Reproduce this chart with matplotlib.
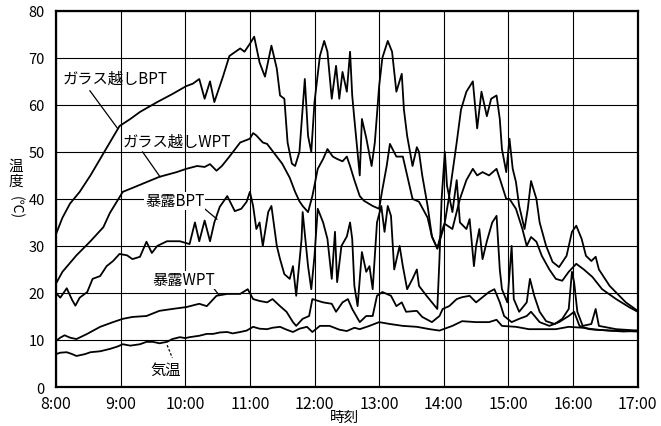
import matplotlib.pyplot as plt
import numpy as np

plt.rcParams['font.family'] = ['Noto Sans CJK JP', 'DejaVu Sans']

# minutes after 8:00 and temperature (deg C)
glass_bpt_min = [0, 6, 13, 22, 32, 41, 50, 59, 69, 78, 94, 108, 121, 127, 133, 138, 143, 147, 155, 161,
                 171, 175, 180, 184, 189, 194, 200, 205, 208, 212, 215, 219, 222, 226, 231, 234, 237, 240,
                 245, 249, 252, 256, 260, 263, 266, 270, 273, 275, 277, 282, 284, 288, 293, 296, 300, 303,
                 308, 312, 316, 321, 323, 326, 331, 335, 337, 340, 345, 349, 354, 358, 361, 365, 372, 376,
                 381, 387, 391, 395, 400, 404, 409, 412, 414, 418, 421, 424, 427, 430, 435, 438, 441, 446,
                 449, 455, 461, 467, 474, 479, 483, 488, 492, 497, 501, 504, 514, 523, 529, 540]
glass_bpt = [32.5, 36, 39, 41.5, 45, 48.5, 52, 55.5, 57, 58.5, 60.6, 62.3, 64, 64.5, 65.5, 61.3, 65, 60.6,
             66, 70.4, 72, 71.3, 73, 74.5, 69, 66, 72.6, 67.7, 62, 61.3, 52, 47.5, 47, 50, 65.5, 53.4, 50,
             60.6, 70.4, 73.6, 71.3, 61.3, 68.3, 61.3, 67, 62.8, 71.3, 62, 57, 45, 57, 53, 47, 52, 64, 70,
             73.6, 71.3, 62.8, 66.6, 59, 53.4, 47, 51, 50, 45, 38.5, 32, 29.5, 33, 35, 40.6, 52, 59, 62.8,
             65, 55, 62.8, 57.6, 61.3, 62, 57, 50.6, 45.7, 52.8, 46.4, 43.6, 38.5, 33.6, 37.9, 43.8, 40,
             35, 30, 26.6, 25.5, 27.9, 33, 34.3, 31.5, 27.9, 26.8, 27.7, 25, 21.5, 19.4, 18, 16.2]

glass_wpt_min = [0, 6, 19, 32, 44, 50, 62, 78, 96, 112, 121, 131, 138, 143, 149, 154, 161, 171, 180, 183,
                 186, 192, 196, 205, 210, 217, 222, 226, 229, 234, 238, 243, 248, 252, 257, 261, 266, 270,
                 273, 277, 282, 286, 294, 300, 303, 307, 310, 316, 322, 326, 331, 337, 345, 349, 354, 361,
                 368, 375, 381, 387, 391, 396, 402, 409, 413, 418, 421, 427, 433, 437, 441, 446, 451, 458,
                 464, 470, 476, 483, 490, 498, 507, 520, 532, 540]
glass_wpt = [22, 24.5, 28, 31, 34, 37, 41.5, 43, 44.7, 45.7, 46.4, 47, 46.8, 47.4, 46, 47, 49, 52, 52.8,
             54, 53.5, 52, 51.7, 49, 47.5, 44.5, 41.5, 39.5, 38.5, 37.2, 40.6, 46.4, 48.5, 50.6, 49, 48.5,
             48, 49, 47, 44, 40.6, 39.6, 38.5, 37.9, 42, 47, 51.7, 49, 49, 45, 40, 39.4, 36, 32, 29.4,
             34.7, 33.6, 40, 44, 46.4, 45, 45.7, 45, 46.4, 43.6, 40, 40, 37.9, 33.6, 30, 31.9, 30.9, 27.9,
             25, 23, 22.6, 24.5, 26.2, 25, 23.4, 20.8, 18.7, 17, 16]

exp_bpt_min = [0, 4, 10, 15, 18, 22, 29, 34, 41, 47, 53, 59, 66, 71, 78, 84, 89, 94, 103, 115, 124, 129,
               133, 138, 143, 147, 152, 159, 166, 172, 177, 180, 183, 186, 189, 192, 197, 200, 205, 208,
               212, 217, 220, 223, 228, 229, 234, 237, 240, 243, 248, 252, 256, 259, 261, 265, 270, 273,
               275, 277, 280, 284, 288, 291, 294, 298, 302, 305, 308, 311, 314, 319, 322, 326, 331, 335,
               337, 344, 349, 354, 356, 358, 361, 363, 368, 372, 375, 381, 384, 388, 390, 393, 396, 400,
               405, 409, 412, 414, 419, 423, 425, 430, 437, 440, 444, 449, 455, 463, 470, 476, 479, 481,
               484, 489, 497, 501, 504, 520, 540]
exp_bpt = [20, 19, 21, 18.5, 17.3, 19, 20.2, 23, 23.6, 25.7, 26.8, 28.3, 28, 27.2, 27.7, 30.9, 28.5, 30,
           31, 31, 30.4, 35, 31, 35.4, 31, 35, 38.3, 40.6, 37.4, 37.9, 39.4, 41.5, 38.5, 33.6, 35, 30, 37.2,
           38.5, 30, 27.2, 24, 23, 25.7, 19.4, 31.5, 37.2, 25.7, 20.8, 27.9, 37.9, 35, 31.5, 23, 33, 22.3,
           30, 32, 35, 31.5, 21.5, 17.2, 28.7, 24.5, 25.7, 20.8, 35, 38.5, 33, 38.5, 36.4, 25, 30, 25.7,
           20.8, 23, 25, 21.5, 19.4, 18, 16.6, 27.2, 40, 50, 42.8, 37.2, 44, 35, 33.6, 35.7, 25.7, 30,
           33.6, 27.2, 31, 35, 36.4, 25, 20.8, 18, 30, 18.7, 16, 18, 23, 19.4, 16, 14, 13.4, 14.5, 16.6,
           24.5, 22.3, 16, 13, 13.4, 16.6, 13, 12.3, 12]

exp_wpt_min = [0, 4, 8, 13, 19, 29, 41, 53, 62, 71, 84, 96, 108, 121, 133, 140, 149, 159, 171, 178, 183,
               189, 196, 201, 208, 214, 220, 223, 229, 235, 238, 248, 256, 260, 266, 271, 275, 282, 288,
               294, 298, 303, 311, 316, 321, 325, 335, 340, 349, 356, 359, 365, 372, 377, 384, 390, 396,
               402, 407, 412, 416, 423, 430, 437, 441, 449, 458, 467, 476, 481, 486, 495, 514, 540]
exp_wpt = [9.8, 10.5, 11, 10.5, 10.2, 11.3, 12.8, 13.8, 14.5, 14.9, 15.1, 16.2, 16.6, 17, 17.7, 17.2, 19.4,
           19.8, 19.8, 20.8, 18.7, 18.3, 18, 18.7, 17.2, 16, 13.8, 13, 14.5, 15.1, 18.7, 18, 17.7, 16, 18,
           18.7, 16.6, 13.8, 15.1, 15.1, 19.4, 20.2, 19.4, 17.2, 18, 16, 16.2, 14.9, 13.8, 15.1, 16.6,
           17.2, 18.7, 19.1, 19.4, 18, 19.1, 20.2, 20.8, 18, 15.1, 13.8, 14.5, 15.1, 16, 13.8, 13, 13.8,
           15.1, 16, 13, 12.3, 12, 11.8]

air_min = [0, 4, 10, 15, 19, 27, 32, 41, 50, 57, 62, 69, 78, 84, 90, 96, 103, 108, 115, 120, 124, 133,
           140, 146, 152, 159, 164, 171, 177, 183, 189, 196, 201, 208, 214, 220, 226, 233, 238, 245, 254,
           263, 270, 277, 282, 291, 300, 310, 322, 335, 347, 356, 368, 377, 390, 402, 409, 414, 427, 439,
           451, 464, 476, 489, 501, 514, 527, 540]
air = [7, 7.3, 7.4, 7.0, 6.6, 7.0, 7.4, 7.6, 8.1, 8.6, 9.1, 8.8, 9.1, 9.6, 9.6, 9.3, 9.6, 10.2, 10.6, 10.4,
       10.6, 10.9, 11.3, 11.3, 11.6, 11.7, 11.4, 11.7, 12.0, 12.8, 12.4, 12.3, 12.6, 12.8, 12.2, 11.7,
       12.4, 12.8, 11.7, 13, 13, 12.2, 11.9, 12.6, 12.3, 13, 13.8, 13.4, 13, 12.8, 12.3, 12, 13, 14,
       13.8, 13.8, 14.3, 13, 12.8, 12.3, 12.3, 12.3, 12.8, 12.6, 12.2, 12, 11.8, 12]

hours = list(range(8, 18))
hour_labels = [f"{h}:00" for h in hours]

fig = plt.figure(figsize=(6.61, 4.27), dpi=100)
ax = fig.add_axes([0.0847, 0.0913, 0.880, 0.881])

for mins, vals in [(glass_bpt_min, glass_bpt), (glass_wpt_min, glass_wpt),
                   (exp_bpt_min, exp_bpt), (exp_wpt_min, exp_wpt), (air_min, air)]:
    t = 8 + np.array(mins) / 60
    ax.plot(t, vals, color='black', lw=1.3, zorder=3)

ax.set_xlim(8, 17)
ax.set_ylim(0, 80)
ax.set_xticks(hours)
ax.set_xticklabels(hour_labels)
ax.set_yticks(range(0, 81, 10))
ax.tick_params(axis='x', length=0, pad=6, labelsize=11.5)
ax.tick_params(axis='y', length=0, pad=8, labelsize=10.5)
ax.grid(True, color='black', lw=0.8)
for s in ax.spines.values():
    s.set_linewidth(1.6)

# series labels with leader lines
box = dict(facecolor='white', edgecolor='none', pad=0.5)
ax.text(8.912, 65.7, 'ガラス越しBPT', fontsize=11, ha='center', va='center', zorder=4)
ax.plot([8.525, 8.958], [63, 54.9], color='black', lw=0.9, zorder=3)
ax.text(9.87, 52.3, 'ガラス越しWPT', fontsize=11, ha='center', va='center', zorder=4)
ax.plot([9.34, 9.61], [50, 44.7], color='black', lw=0.9, zorder=3)
ax.text(9.84, 39.6, '暴露BPT', fontsize=11, ha='center', va='center', bbox=box, zorder=4)
ax.plot([10.30, 10.49], [37.9, 35.7], color='black', lw=0.9, zorder=3)
ax.text(9.98, 22.8, '暴露WPT', fontsize=11, ha='center', va='center', bbox=box, zorder=4)
ax.plot([10.44, 10.52], [21.0, 19.6], color='black', lw=0.9, zorder=3)
ax.text(9.70, 3.8, '気温', fontsize=11, ha='center', va='center', zorder=4)
ax.plot([9.72, 9.80], [8.9, 6.2], color='black', lw=0.9, ls=(0, (2, 1.5)), zorder=3)

# axis titles
fig.text(345 / 661, 1 - 418 / 427, '時刻', fontsize=10.5, ha='center', va='center')
fig.text(16 / 661, 1 - 174 / 427, '温\n度', fontsize=10.5, ha='center', va='center', linespacing=1.1)
fig.text(16 / 661, 1 - 208 / 427, '(℃)', fontsize=10, ha='center', va='center', rotation=-90)

fig.savefig('out.png', dpi=100)
